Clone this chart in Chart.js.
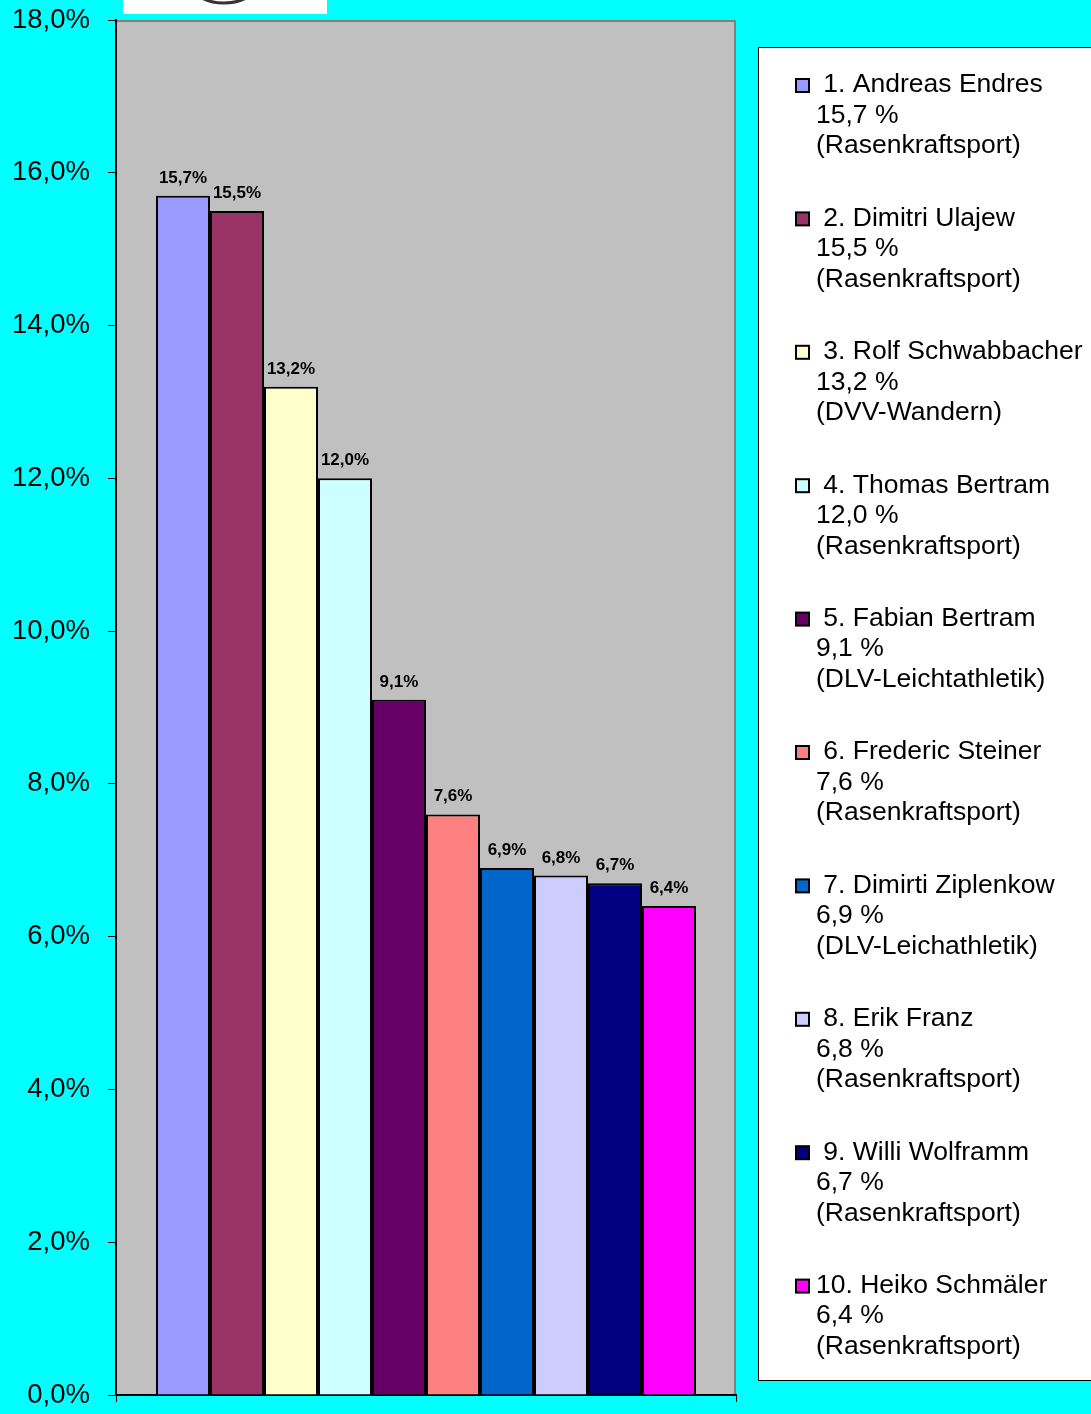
<!DOCTYPE html>
<html>
<head>
<meta charset="utf-8">
<script src="https://cdn.jsdelivr.net/npm/chart.js@4/dist/chart.umd.min.js"></script>
<style>
  html, body { margin: 0; padding: 0; background: #00FFFF; }
  #wrap { width: 1091px; height: 1414px; position: relative; }
</style>
</head>
<body>
<div id="wrap"><canvas id="c" width="1091" height="1414"></canvas></div>
<script>
const categories = [''];
const names = [' 1. Andreas Endres', ' 2. Dimitri Ulajew', ' 3. Rolf Schwabbacher', ' 4. Thomas Bertram', ' 5. Fabian Bertram', ' 6. Frederic Steiner', ' 7. Dimirti Ziplenkow', ' 8. Erik Franz', ' 9. Willi Wolframm', '10. Heiko Schmäler'];
const values = [15.7, 15.5, 13.2, 12.0, 9.1, 7.6, 6.9, 6.8, 6.7, 6.4];
const clubs = ['(Rasenkraftsport)', '(Rasenkraftsport)', '(DVV-Wandern)', '(Rasenkraftsport)', '(DLV-Leichtathletik)', '(Rasenkraftsport)', '(DLV-Leichathletik)', '(Rasenkraftsport)', '(Rasenkraftsport)', '(Rasenkraftsport)'];
const colors = ['#9999FF', '#993366', '#FFFFCC', '#CCFFFF', '#660066', '#FF8080', '#0066CC', '#CCCCFF', '#000080', '#FF00FF'];
const yTicks = [0, 2, 4, 6, 8, 10, 12, 14, 16, 18];

const FONT = '"Liberation Sans", Arial, sans-serif';
const fmt = (v, sep) => v.toFixed(1).replace('.', ',') + sep + '%';

const bgPlugin = {
  id: 'bg',
  beforeDraw(chart) {
    const ctx = chart.ctx, a = chart.chartArea;
    ctx.save();
    ctx.fillStyle = '#00FFFF';
    ctx.fillRect(0, 0, chart.width, chart.height);
    // logo remnant at top
    ctx.fillStyle = '#FFFFFF';
    ctx.fillRect(123, 0, 204, 14);
    ctx.beginPath();
    ctx.ellipse(224, -22, 37, 25, 0, 0, Math.PI);
    ctx.strokeStyle = '#333333';
    ctx.lineWidth = 3;
    ctx.stroke();
    // plot area
    ctx.fillStyle = '#C0C0C0';
    ctx.fillRect(a.left, a.top, a.right - a.left, a.bottom - a.top);
    ctx.strokeStyle = '#808080';
    ctx.lineWidth = 2;
    ctx.beginPath();
    ctx.moveTo(a.left, a.top + 1);
    ctx.lineTo(a.right - 1, a.top + 1);
    ctx.lineTo(a.right - 1, a.bottom);
    ctx.stroke();
    ctx.restore();
  },
  afterDraw(chart) {
    const ctx = chart.ctx;
    ctx.save();
    // data labels
    ctx.fillStyle = '#000';
    ctx.font = 'bold 17px ' + FONT;
    ctx.textAlign = 'center';
    ctx.textBaseline = 'alphabetic';
    chart.data.datasets.forEach((ds, i) => {
      const el = chart.getDatasetMeta(i).data[0];
      ctx.fillText(fmt(ds.data[0], ''), el.x, el.y - 13);
    });
    // legend box
    ctx.fillStyle = '#FFFFFF';
    ctx.fillRect(758, 47, 340, 1333);
    ctx.strokeStyle = '#000';
    ctx.lineWidth = 1;
    ctx.strokeRect(758.5, 47.5, 340, 1333);
    ctx.font = '26.5px ' + FONT;
    ctx.textAlign = 'left';
    ctx.textBaseline = 'middle';
    chart.data.datasets.forEach((ds, i) => {
      const y0 = 85 + i * 133.4;
      ctx.fillStyle = ds.backgroundColor;
      ctx.fillRect(796, y0 - 6, 13, 13);
      ctx.strokeStyle = '#000';
      ctx.lineWidth = 2;
      ctx.strokeRect(796, y0 - 6, 13, 13);
      ctx.fillStyle = '#000';
      ctx.fillText(names[i], 816, y0);
      ctx.fillText(fmt(values[i], ' '), 816, y0 + 30.5);
      ctx.fillText(clubs[i], 816, y0 + 61);
    });
    ctx.restore();
  }
};

new Chart(document.getElementById('c'), {
  type: 'bar',
  data: {
    labels: categories,
    datasets: values.map((v, i) => ({
      label: names[i].trim(),
      data: [v],
      backgroundColor: colors[i],
      borderColor: '#000000',
      borderWidth: 2,
      borderSkipped: 'bottom'
    }))
  },
  options: {
    responsive: false,
    animation: false,
    devicePixelRatio: 1,
    layout: { padding: { top: 20, right: 355, left: 0, bottom: 0 } },
    plugins: { legend: { display: false }, tooltip: { enabled: false } },
    datasets: { bar: { categoryPercentage: 0.871, barPercentage: 1.0 } },
    scales: {
      x: {
        afterFit(s) { s.height = 19; s.paddingLeft = 0; s.paddingRight = 0; },
        ticks: { display: false },
        grid: { display: true, drawOnChartArea: false, drawTicks: true, tickLength: 7, color: '#000', lineWidth: 1 },
        border: { display: true, color: '#000', width: 2 }
      },
      y: {
        min: 0, max: 18,
        afterFit(s) { s.width = 116; s.paddingTop = 0; s.paddingBottom = 0; },
        afterBuildTicks(s) { s.ticks = yTicks.map(v => ({ value: v })); },
        ticks: {
          color: '#000',
          font: { family: FONT, size: 27.5 },
          padding: 18,
          callback: (v) => fmt(v, '')
        },
        grid: { display: true, drawOnChartArea: false, drawTicks: true, tickLength: 8, color: '#000', lineWidth: 1 },
        border: { display: true, color: '#000', width: 2 }
      }
    }
  },
  plugins: [bgPlugin]
});
</script>
</body>
</html>
